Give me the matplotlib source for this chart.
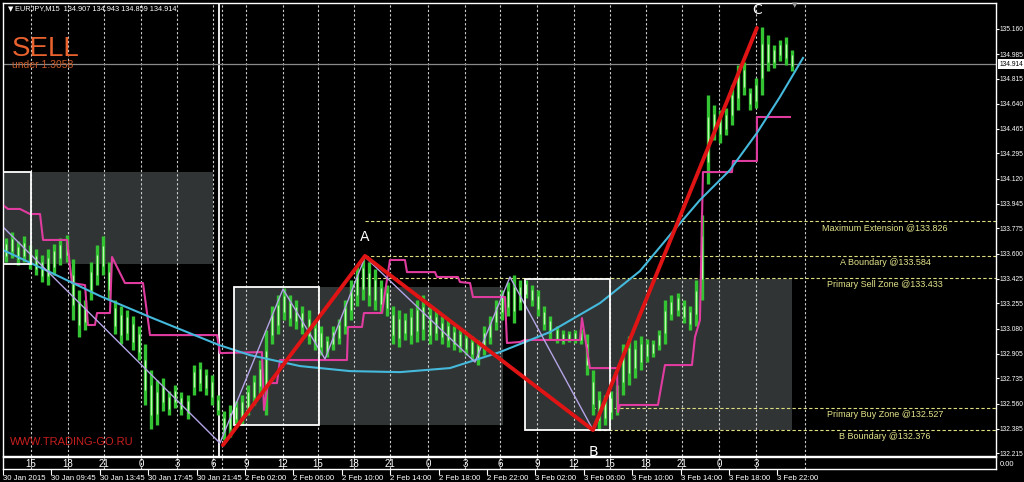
import numpy as np
import matplotlib
matplotlib.use("Agg")
from matplotlib import pyplot as plt
from matplotlib.patches import Rectangle
import matplotlib.transforms as mtransforms

W, H = 1024, 482

# time = hours from 30 Jan 05:45 (weekend gap removed), price = EURJPY
bar_start, bar_step = 0.25, 0.5
bar_hi = [133.71, 133.75, 133.69, 133.72, 133.66, 133.63, 133.59, 133.63, 133.67, 133.71,
          133.73, 133.56, 133.35, 133.28, 133.54, 133.66, 133.72, 133.54, 133.28, 133.24,
          133.21, 133.17, 133.10, 132.97, 132.79, 132.72, 132.74, 132.65, 132.69, 132.64,
          132.62, 132.83, 132.85, 132.80, 132.76, 132.62,
          132.51, 132.55, 132.58, 132.62, 132.69, 132.76, 132.86, 133.07, 133.24, 133.31,
          133.36, 133.31, 133.28, 133.24, 133.21, 133.14, 133.10, 133.03, 133.10, 133.15,
          133.28, 133.42, 133.52, 133.57, 133.54, 133.49, 133.42, 133.38, 133.24, 133.21,
          133.19, 133.22, 133.28, 133.31, 133.24, 133.21, 133.17, 133.15, 133.10, 133.08,
          133.05, 133.03, 133.00, 133.10, 133.17, 133.28, 133.35, 133.40, 133.45, 133.42,
          133.42, 133.38, 133.35, 133.24, 133.17, 133.10, 133.07, 133.06, 133.07, 133.08,
          133.04, 132.79, 132.65, 132.62, 132.65, 132.69, 132.97, 133.03, 133.00, 133.03,
          133.01, 133.00, 133.07, 133.28, 133.31, 133.33, 133.28, 133.24, 133.42, 133.87,
          134.70, 134.63, 134.60, 134.61, 134.77, 134.91, 134.93, 134.75, 134.82, 135.17,
          135.12, 135.05, 135.08, 135.10, 135.01]
bar_lo = [133.54, 133.57, 133.52, 133.54, 133.49, 133.45, 133.40, 133.38, 133.45, 133.52,
          133.54, 133.14, 133.02, 133.07, 133.28, 133.38, 133.45, 133.28, 133.04, 132.97,
          133.00, 132.93, 132.86, 132.55, 132.38, 132.41, 132.51, 132.48, 132.53, 132.48,
          132.45, 132.62, 132.65, 132.62, 132.55, 132.48,
          132.31, 132.33, 132.41, 132.41, 132.48, 132.55, 132.62, 132.48, 132.97, 133.04,
          133.14, 133.10, 133.08, 133.04, 132.97, 132.93, 132.90, 132.88, 132.93, 132.97,
          133.04, 133.14, 133.24, 133.28, 133.24, 133.21, 133.19, 133.17, 132.97, 132.95,
          133.00, 132.97, 132.99, 133.00, 132.97, 133.00, 132.97, 132.95, 132.93, 132.92,
          132.90, 132.86, 132.83, 132.90, 132.97, 133.07, 133.14, 133.17, 133.12, 133.21,
          133.29, 133.24, 133.17, 133.07, 133.01, 132.98, 132.97, 132.99, 132.98, 132.97,
          132.76, 132.48, 132.38, 132.41, 132.45, 132.48, 132.62, 132.69, 132.74, 132.79,
          132.85, 132.88, 132.93, 132.97, 133.14, 133.17, 133.12, 133.07, 133.10, 133.28,
          134.08, 134.39, 134.37, 134.42, 134.49, 134.60, 134.70, 134.60, 134.61, 134.70,
          134.87, 134.89, 134.94, 134.91, 134.87]

# magenta step indicator
mag_t = [0.0, 0.41, 1.40, 2.23, 3.06, 3.31, 5.29, 5.70, 6.78, 7.02, 7.60, 7.77, 8.84, 9.01,
         10.08, 11.57, 12.15, 17.69, 17.93, 21.40, 21.57, 21.90, 22.64, 22.89, 28.43, 28.51,
         29.67, 29.83, 31.32, 31.98, 33.22, 33.39, 35.70, 35.87, 37.60, 37.77, 38.60, 38.84,
         41.49, 41.65, 42.73, 43.14, 47.69, 47.85, 48.51, 50.74, 50.83, 50.99, 54.13, 54.71,
         56.94, 57.19, 57.60, 57.85, 60.25, 60.33, 62.31, 62.31, 65.04]
mag_p = [133.937, 133.910, 133.910, 133.875, 133.875, 133.695, 133.695, 133.396, 133.382,
         133.105, 133.105, 133.188, 133.188, 133.577, 133.396, 133.396, 133.035, 133.035,
         132.910, 132.917, 132.515, 132.702, 132.702, 132.862, 132.862, 133.091, 133.091,
         133.188, 133.188, 133.556, 133.556, 133.472, 133.472, 133.438, 133.438, 133.403,
         133.396, 133.299, 133.299, 132.980, 132.987, 133.001, 133.001, 133.153, 132.806,
         132.806, 132.501, 132.550, 132.550, 132.827, 132.827, 133.021, 133.139, 134.166,
         134.166, 134.243, 134.243, 134.548, 134.548]

# cyan regression curve
cyan_t = [0.0, 3.88, 8.02, 12.15, 17.85, 20.41, 24.55, 28.68, 32.81, 36.94, 41.07,
          45.21, 49.34, 52.64, 55.12, 57.60, 60.08, 62.31, 64.21, 66.12]
cyan_p = [133.625, 133.472, 133.306, 133.160, 132.966, 132.896, 132.820, 132.785, 132.778,
          132.806, 132.917, 133.056, 133.257, 133.479, 133.729, 133.972, 134.180, 134.437,
          134.687, 134.958]

# lavender zigzag
lav_t = [0.0, 17.93, 23.14, 26.61, 29.92, 39.01, 41.90, 48.68]
lav_p = [133.785, 132.286, 133.354, 132.869, 133.577, 132.848, 133.438, 132.390]

# red ABC swing
abc_t = [18.18, 29.92, 48.76, 62.31]
abc_p = [132.272, 133.584, 132.376, 135.166]
abc_names = ["A", "B", "C"]

# levels
level_names = ["Maximum Extension", "A Boundary", "Primary Sell Zone",
               "Primary Buy Zone", "B Boundary"]
level_vals = [133.826, 133.584, 133.433, 132.527, 132.376]
level_from = [29.92, 29.92, 29.09, 48.68, 48.68]

# gray zones with white boxes
zone_t0 = [0.0, 19.09, 43.14]
zone_t1 = [17.36, 41.32, 65.21]
zone_box_t1 = [2.31, 26.12, 50.17]
zone_lo = [133.528, 132.411, 132.376]
zone_hi = [134.166, 133.368, 133.424]

hour_t = [2.31, 5.37, 8.35, 11.40, 14.38, 17.36, 20.08, 23.14, 26.03, 29.01, 31.98,
          35.12, 38.18, 41.07, 44.13, 47.19, 50.17, 53.14, 56.12, 59.17, 62.23]
hour_lbl = ["15", "18", "21", "0", "3", "6", "9", "12", "15", "18", "21",
            "0", "3", "6", "9", "12", "15", "18", "21", "0", "3"]
extra_grid_t = [18.10, 66.28]
separator_t = 17.85

date_t = [0, 4, 8, 12, 16, 20, 24, 28, 32, 36, 40, 44, 48, 52, 56, 60, 64]
date_lbl = ["30 Jan 2015", "30 Jan 09:45", "30 Jan 13:45", "30 Jan 17:45", "30 Jan 21:45",
            "2 Feb 02:00", "2 Feb 06:00", "2 Feb 10:00", "2 Feb 14:00", "2 Feb 18:00",
            "2 Feb 22:00", "3 Feb 02:00", "3 Feb 06:00", "3 Feb 10:00", "3 Feb 14:00",
            "3 Feb 18:00", "3 Feb 22:00"]

price_ticks = [135.160, 134.985, 134.815, 134.640, 134.465, 134.295, 134.120, 133.945,
               133.775, 133.600, 133.425, 133.255, 133.080, 132.905, 132.735, 132.560,
               132.385, 132.215]
symbol = "EURJPY,M15"
ohlc = [134.907, 134.943, 134.859, 134.914]
last_price = 134.914

SMALL = ["Liberation Sans", "DejaVu Sans"]
TXT = "#e4e48c"

fig = plt.figure(figsize=(W / 100, H / 100), dpi=100, facecolor="black")
ax = fig.add_axes([3 / W, 1 - 456 / H, 993 / W, 453 / H], facecolor="black")
sub = fig.add_axes([3 / W, 1 - 469 / H, 993 / W, 12 / H], facecolor="black", sharex=ax)

ax.set_xlim(0, 82.07)
ax.set_ylim(132.196, 135.339)

for a in (ax, sub):
    for s in a.spines.values():
        s.set_color("white")
        s.set_linewidth(1.0)

# zones
for t0, t1, tb, lo, hi in zip(zone_t0, zone_t1, zone_box_t1, zone_lo, zone_hi):
    ax.add_patch(Rectangle((t0, lo), t1 - t0, hi - lo, facecolor="#303434",
                           edgecolor="none", zorder=1))
    ax.add_patch(Rectangle((t0, lo), tb - t0, hi - lo, fill=False,
                           edgecolor="white", linewidth=1.3, zorder=5))

# grid
for t in hour_t + extra_grid_t:
    ax.axvline(t, color="#cfcfcf", lw=0.8, ls=(0, (2, 2)), zorder=2)
    sub.axvline(t, color="#cfcfcf", lw=0.8, ls=(0, (2, 2)), zorder=2)
ax.axvline(separator_t, color="white", lw=1.3, zorder=2)

# levels
for name, v, t0 in zip(level_names, level_vals, level_from):
    ax.hlines(v, t0, 82.07, color="#dede80", lw=0.8, ls=(0, (3, 2)), zorder=2)
    ax.annotate(f"{name} @{v:.3f}", (72.9, v), xytext=(0, -1.5),
                textcoords="offset points", ha="center", va="top",
                color=TXT, fontsize=6.5, family=SMALL, zorder=6)

ax.axhline(last_price, color="#8a8a8a", lw=0.9, zorder=2)

# price bars
bar_t = bar_start + bar_step * np.arange(len(bar_hi))
hi = np.array(bar_hi)
lo = np.array(bar_lo)
ax.vlines(bar_t, lo, hi, color="#33c333", lw=2.4, zorder=3)
ax.vlines(bar_t, lo + 0.25 * (hi - lo), hi - 0.25 * (hi - lo), color="#c0f8b0",
          lw=0.9, zorder=3)

ax.plot(mag_t, mag_p, color="#e03ca0", lw=1.5, zorder=4)
ax.plot(cyan_t, cyan_p, color="#45b9dc", lw=1.5, zorder=4)
ax.plot(lav_t, lav_p, color="#b4a4e6", lw=1.0, zorder=4)
ax.plot(abc_t, abc_p, color="#e01414", lw=2.8, zorder=6, solid_capstyle="round")

for name, t, p, dy in zip(abc_names, abc_t[1:], abc_p[1:], [14, -16, 13]):
    ax.annotate(name, (t, p), xytext=(0, dy), textcoords="offset points",
                ha="center", va="center", color="white", fontsize=10,
                family="DejaVu Sans", annotation_clip=False, clip_on=True, zorder=7)

# right price scale
ax.yaxis.tick_right()
ax.set_yticks(price_ticks)
ax.set_yticklabels([f"{p:.3f}" for p in price_ticks])
ax.tick_params(axis="y", colors="white", length=2, width=0.8, pad=0.8, labelsize=4.8)
for lbl in ax.get_yticklabels():
    lbl.set_family(SMALL)
ax.tick_params(axis="x", bottom=False, labelbottom=False)

ax.annotate(f"{last_price:.3f}", (1.0, last_price),
            xycoords=mtransforms.blended_transform_factory(ax.transAxes, ax.transData),
            xytext=(2.2, 0), textcoords="offset points", ha="left", va="center",
            fontsize=4.8, family=SMALL, color="black",
            bbox=dict(boxstyle="square,pad=0.2", facecolor="white", edgecolor="none"))

# hours sub window + date labels
sub.set_ylim(0, 1)
sub.yaxis.tick_right()
sub.set_yticks([0.5])
sub.set_yticklabels(["0.00"])
sub.tick_params(axis="y", colors="white", length=0, pad=3, labelsize=5.5)
sub.set_xticks(date_t)
sub.set_xticklabels(date_lbl)
sub.tick_params(axis="x", colors="white", length=4, width=0.8, pad=0.5, labelsize=5.6)
for lbl in sub.get_xticklabels():
    lbl.set_family(SMALL)
    lbl.set_horizontalalignment("left")
for lbl in sub.get_yticklabels():
    lbl.set_family(SMALL)
for t, s in zip(hour_t, hour_lbl):
    sub.text(t, 0.45, s, ha="center", va="center", color="white", fontsize=7,
             family=SMALL)

# texts
fig.text(8 / W, 1 - 9 / H, "\u25bc", color="white", fontsize=5, va="center",
         family="DejaVu Sans")
fig.text(15 / W, 1 - 9 / H, f"{symbol}  " + " ".join(f"{v:.3f}" for v in ohlc),
         color="white", fontsize=5.3, va="center", family=SMALL)
fig.text(12 / W, 1 - 56.5 / H, "SELL", color="#e8622e", fontsize=20,
         family="Liberation Sans", va="baseline")
fig.text(12 / W, 1 - 68.5 / H, "under 1.3058", color="#c85a28", fontsize=7.5,
         family="Liberation Sans", va="baseline")
fig.text(10 / W, 1 - 442 / H, "WWW.TRADING-GO.RU", color="#c81e1e", fontsize=8,
         family="Liberation Sans", va="center")
fig.text(795 / W, 1 - 5 / H, "\u25bc", color="#9a9a9a", fontsize=5, ha="center",
         va="center", family="DejaVu Sans")

fig.savefig("out.png", dpi=100, facecolor="black")
